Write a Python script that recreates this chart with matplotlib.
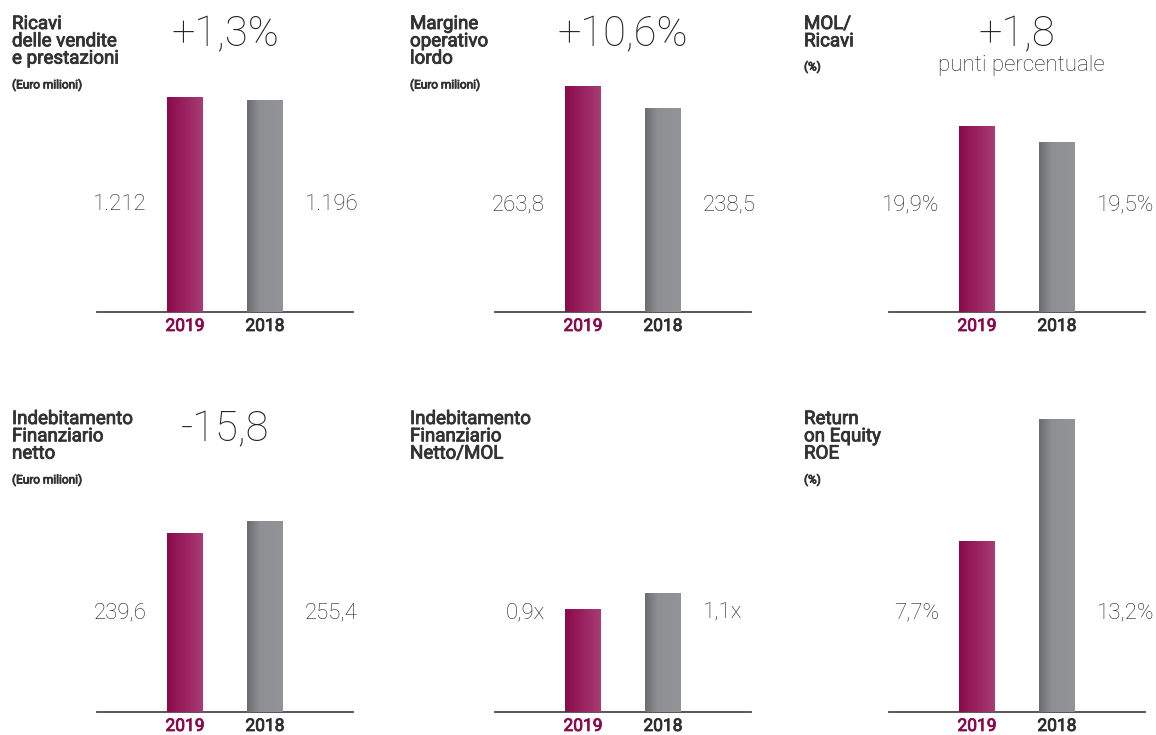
import numpy as np
import matplotlib
matplotlib.use("Agg")
import matplotlib.pyplot as plt
import matplotlib.patheffects as pe
from matplotlib.colors import LinearSegmentedColormap

# --- data ---
titles = ["Ricavi\ndelle vendite\ne prestazioni", "Margine\noperativo\nlordo", "MOL/\nRicavi",
          "Indebitamento\nFinanziario\nnetto", "Indebitamento\nFinanziario\nNetto/MOL", "Return\non Equity\nROE"]
units = ["(Euro milioni)", "(Euro milioni)", "(%)", "(Euro milioni)", "", "(%)"]
changes = ["+1,3%", "+10,6%", "+1,8", "-15,8", "", ""]
change_notes = ["", "", "punti percentuale", "", "", ""]
years = ["2019", "2018"]
values_2019 = [1212, 263.8, 19.9, 239.6, 0.9, 7.7]
values_2018 = [1196, 238.5, 19.5, 255.4, 1.1, 13.2]
labels_2019 = ["1.212", "263,8", "19,9%", "239,6", "0,9x", "7,7%"]
labels_2018 = ["1.196", "238,5", "19,5%", "255,4", "1,1x", "13,2%"]

# per-panel y ranges (picked so bar heights match the reference)
ylims = [(0, 1420), (0, 294), (15.25, 21.55), (0, 418), (-0.426, 3.574), (0, 14.05)]

W, H = 1156, 735
fig = plt.figure(figsize=(W / 100, H / 100), dpi=100)
plt.rcParams['font.family'] = ['Roboto', 'DejaVu Sans']

dark = "#2e2e2e"
magenta = "#8a0a4c"
cmap_19 = LinearSegmentedColormap.from_list("m", ["#8a0a4c", "#a83c73"])
cmap_18 = LinearSegmentedColormap.from_list("g", [(0, "#6b6c70"), (0.35, "#8e8f93"), (1, "#939498")])

col_left = [97, 495, 889]
row_base = [312, 712]
row_height = [252, 312]
row_title = [15, 410]


def px(x, y):
    return x / W, 1 - y / H


def medium(color):
    # fake a medium weight by stroking the regular face a little
    return [pe.withStroke(linewidth=0.6, foreground=color)]


def gradient_fill(ax, patch, cmap):
    x0, y0 = patch.get_x(), patch.get_y()
    w, h = patch.get_width(), patch.get_height()
    grad = np.linspace(0, 1, 256).reshape(1, -1)
    im = ax.imshow(grad, extent=[x0, x0 + w, y0, y0 + h], aspect='auto', cmap=cmap,
                   origin='lower', zorder=3, interpolation='bilinear')
    im.set_clip_path(patch)


for i in range(6):
    r, c = divmod(i, 3)
    left = col_left[c]
    base = row_base[r]
    hgt = row_height[r]
    ax = fig.add_axes([left / W, 1 - base / H, 256 / W, hgt / H])
    lo, hi = ylims[i]
    vals = [values_2019[i], values_2018[i]]
    bars = ax.bar([0, 1], [v - lo for v in vals], bottom=lo, width=0.45, color="none", zorder=2)
    gradient_fill(ax, bars[0], cmap_19)
    gradient_fill(ax, bars[1], cmap_18)
    ax.set_xlim(-1.1, 2.1)
    ax.set_ylim(lo, hi)
    for s in ["top", "left", "right"]:
        ax.spines[s].set_visible(False)
    ax.spines["bottom"].set_color("#4a4a4a")
    ax.spines["bottom"].set_linewidth(1.3)
    ax.set_yticks([])
    ax.set_xticks([0, 1])
    ax.set_xticklabels(years, fontsize=12.5, fontweight='normal')
    ax.tick_params(axis='x', length=0, pad=5)
    for lab, col in zip(ax.get_xticklabels(), [magenta, dark]):
        lab.set_color(col)
        lab.set_path_effects(medium(col))
    ax.patch.set_alpha(0)

    # value labels either side of the bars
    ly = 0.426 if r == 0 else 0.318
    ax.text(-0.225 - 0.25, ly, labels_2019[i], transform=ax.get_xaxis_transform(),
            ha='right', va='center', fontsize=16, fontweight='light', color="#222222")
    ax.text(1.225 + 0.27, ly, labels_2018[i], transform=ax.get_xaxis_transform(),
            ha='left', va='center', fontsize=16, fontweight='light', color="#222222")

    # panel title and unit
    tx = left - 85
    ty = row_title[r]
    fig.text(*px(tx, ty), titles[i], ha='left', va='top', fontsize=13.5, fontweight='normal',
             color="#333333", linespacing=0.95, path_effects=medium("#333333"))
    nlines = titles[i].count("\n") + 1
    if units[i]:
        fig.text(*px(tx, ty + nlines * 18 + 9), units[i], ha='left', va='top', fontsize=8.5,
                 fontweight='normal', color="#333333", path_effects=medium("#333333"))

    # change figure on top
    if changes[i]:
        cx = left + 128
        fig.text(*px(cx, ty + 20), changes[i], ha='center', va='center', fontsize=30,
                 fontweight='light', color="#222222")
    if change_notes[i]:
        fig.text(*px(left + 132, ty + 50), change_notes[i], ha='center', va='center',
                 fontsize=16, fontweight='light', color="#222222")

fig.savefig("out.png", dpi=100, facecolor="white")
